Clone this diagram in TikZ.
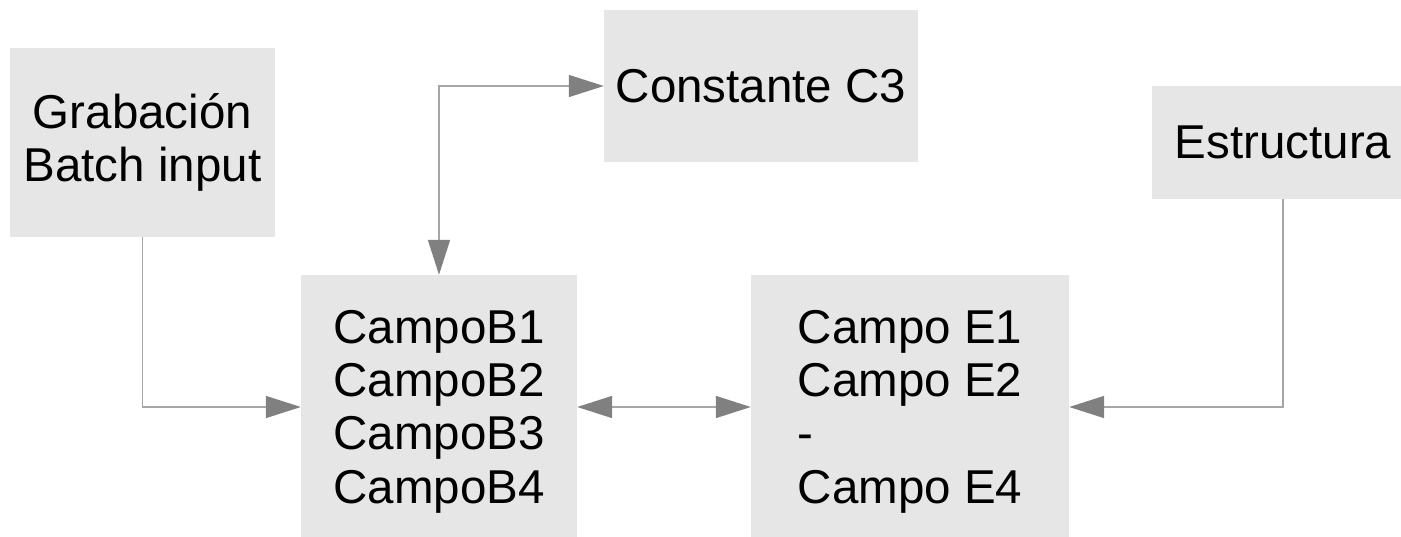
\documentclass[tikz,border=0pt]{standalone}
\usepackage{fontspec}
\setmainfont{Liberation Sans}
\usetikzlibrary{arrows.meta}
\definecolor{boxgray}{HTML}{E6E6E6}
\definecolor{linegray}{HTML}{A6A6A6}
\definecolor{tipgray}{HTML}{808080}
\newcommand{\topstrut}{\rule{0pt}{42pt}}
\begin{document}
\begin{tikzpicture}[x=1pt,y=-1pt,
  box/.style={fill=boxgray, draw=none, inner sep=0pt, align=left,
    font=\fontsize{47.5}{53.3}\selectfont},
  conn/.style={draw=linegray, line width=1.5pt,
    arrows={-Triangle[length=35pt,width=22pt,color=tipgray]}},
  bconn/.style={draw=linegray, line width=1.5pt,
    arrows={Triangle[length=35pt,width=22pt,color=tipgray]-Triangle[length=35pt,width=22pt,color=tipgray]}}]
\useasboundingbox (0,0) rectangle (1401,536);
\begin{scope}
\clip (0,0) rectangle (1401,536);
\node[box, align=center, minimum width=265pt, minimum height=189pt] (grab) at (142.5,142.5) {Grabación\\Batch input};
\node[box, align=center, minimum width=314pt, minimum height=152pt] (const) at (761,86) {Constante C3};
\node[box, align=center, minimum width=262pt, minimum height=113pt] (estr) at (1283,142.5) {Estructura};
\node[box, minimum width=276pt, minimum height=264pt] (campob) at (439,407) {\topstrut CampoB1\\CampoB2\\CampoB3\\CampoB4};
\node[box, minimum width=318pt, minimum height=264pt] (campoe) at (910,407) {\topstrut Campo E1\\Campo E2\\-\\Campo E4};
\end{scope}
\draw[conn] (grab.south) |- (campob.west);
\draw[bconn] (campob.north) |- (const.west);
\draw[bconn] (campob.east) -- (campoe.west);
\draw[conn] (estr.south) |- (campoe.east);
\end{tikzpicture}
\end{document}
